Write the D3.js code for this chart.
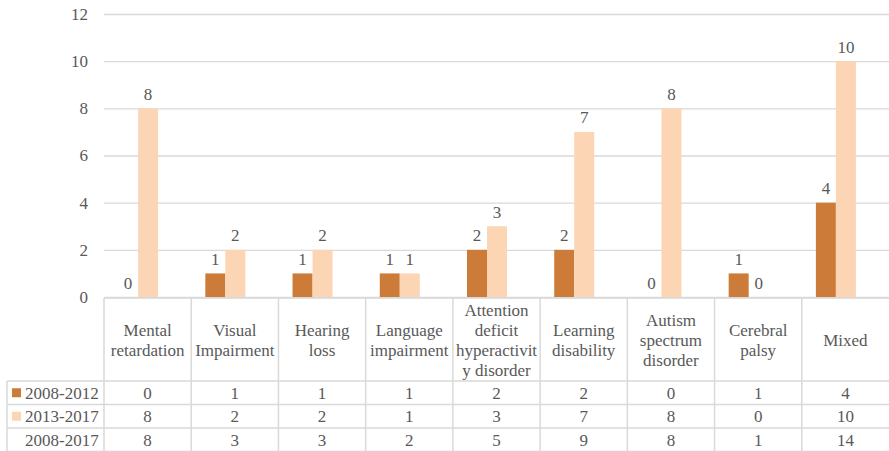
<!DOCTYPE html>
<html>
<head>
<meta charset="utf-8">
<script src="https://cdn.jsdelivr.net/npm/d3@7"></script>
<style>
  body { margin: 0; background: #fff; }
  svg { display: block; }
</style>
</head>
<body>
<div id="chart-container"></div>
<script>
// chart data
var categories = ["Mental\nretardation", "Visual\nImpairment", "Hearing\nloss", "Language\nimpairment",
    "Attention\ndeficit\nhyperactivit\ny disorder", "Learning\ndisability", "Autism\nspectrum\ndisorder",
    "Cerebral\npalsy", "Mixed"];
var seriesNames = ["2008-2012", "2013-2017"];
var values2008_2012 = [0, 1, 1, 1, 2, 2, 0, 1, 4];
var values2013_2017 = [8, 2, 2, 1, 3, 7, 8, 0, 10];
var totalName = "2008-2017";
var values2008_2017 = [8, 3, 3, 2, 5, 9, 8, 1, 14];
var yTicks = [0, 2, 4, 6, 8, 10, 12];

var width = 889, height = 451;
var plotLeft = 104, plotRight = 889, plotTop = 14, plotBottom = 297;
var colors = ["#cc7b39", "#fcd5b5"];
var gridColor = "#d9d9d9";
var fontFam = "'Liberation Serif', 'Times New Roman', Times, serif";

var svg = d3.select("#chart-container")
    .append("svg")
    .attr("width", width)
    .attr("height", height)
    .style("font-family", fontFam);

var x = d3.scaleBand()
    .domain(categories)
    .range([plotLeft, plotRight]);

var xs = d3.scaleBand()
    .domain(seriesNames)
    .range([0, 40]);

var y = d3.scaleLinear()
    .domain([0, 12])
    .range([plotBottom, plotTop]);

// gridlines + y labels
var yAxis = d3.axisLeft(y)
    .tickValues(yTicks)
    .tickSize(-(plotRight - plotLeft))
    .tickPadding(16);

var gy = svg.append("g")
    .attr("class", "y-axis")
    .attr("transform", "translate(" + plotLeft + ",0)")
    .call(yAxis);
gy.attr("font-family", null).attr("font-size", null);
gy.select(".domain").remove();
gy.selectAll("line").attr("stroke", gridColor).attr("stroke-width", 1.3);
gy.selectAll("text")
    .style("font-family", fontFam)
    .style("font-size", "17px")
    .attr("fill", "#595959");

// bars (shifted a bit left of the table columns like the original)
var rows = categories.map(function (c, i) {
    return { cat: c, vals: [values2008_2012[i], values2013_2017[i]] };
});
var groupOffset = (x.bandwidth() - 40) / 2 - 9.5;

var groups = svg.selectAll("g.grp")
    .data(rows)
    .enter().append("g")
    .attr("class", "grp")
    .attr("transform", function (d) {
        return "translate(" + (x(d.cat) + groupOffset) + ",0)";
    });

groups.selectAll("rect")
    .data(function (d) {
        return d.vals.map(function (v, j) { return { s: seriesNames[j], v: v, j: j }; });
    })
    .enter().append("rect")
    .attr("x", function (d) { return xs(d.s); })
    .attr("width", xs.bandwidth())
    .attr("y", function (d) { return y(d.v); })
    .attr("height", function (d) { return plotBottom - y(d.v); })
    .style("fill", function (d) { return colors[d.j]; });

groups.selectAll("text.val")
    .data(function (d) {
        return d.vals.map(function (v, j) { return { s: seriesNames[j], v: v }; });
    })
    .enter().append("text")
    .attr("class", "val")
    .attr("x", function (d) { return xs(d.s) + xs.bandwidth() / 2; })
    .attr("y", function (d) { return y(d.v) - 8.5; })
    .attr("text-anchor", "middle")
    .attr("fill", "#595959")
    .style("font-family", fontFam)
    .style("font-size", "17px")
    .text(function (d) { return d.v; });

// data table
var tableTop = 298, headBottom = 381, rowH = 23.5, tableLeft = 7;
var tableRows = [
    { name: seriesNames[0], vals: values2008_2012, color: colors[0] },
    { name: seriesNames[1], vals: values2013_2017, color: colors[1] },
    { name: totalName, vals: values2008_2017, color: null }
];
var tbl = svg.append("g").attr("class", "table");

// horizontal lines
tbl.append("line")
    .attr("x1", plotLeft).attr("x2", plotRight)
    .attr("y1", tableTop).attr("y2", tableTop);
[0, 1, 2, 3].forEach(function (i) {
    tbl.append("line")
        .attr("x1", tableLeft).attr("x2", plotRight)
        .attr("y1", headBottom + i * rowH).attr("y2", headBottom + i * rowH);
});
// vertical lines
tbl.append("line")
    .attr("x1", tableLeft).attr("x2", tableLeft)
    .attr("y1", headBottom).attr("y2", height);
categories.forEach(function (c) {
    tbl.append("line")
        .attr("x1", x(c)).attr("x2", x(c))
        .attr("y1", tableTop).attr("y2", height);
});
tbl.selectAll("line").attr("stroke", gridColor).attr("stroke-width", 1.5);

// header text
categories.forEach(function (c) {
    var lines = c.split("\n");
    var cy = (tableTop + headBottom) / 2 + 0.5;
    var t = tbl.append("text")
        .attr("text-anchor", "middle")
        .attr("fill", "#595959")
        .style("font-family", fontFam)
        .style("font-size", "17px");
    lines.forEach(function (ln, k) {
        t.append("tspan")
            .attr("x", x(c) + x.bandwidth() / 2)
            .attr("y", cy + (k - (lines.length - 1) / 2) * 20 + 6)
            .text(ln);
    });
});

// row cells
tableRows.forEach(function (r, i) {
    var cy = headBottom + i * rowH + rowH / 2;
    if (r.color) {
        tbl.append("rect")
            .attr("x", 12).attr("y", cy - 4.5)
            .attr("width", 9).attr("height", 9)
            .style("fill", r.color);
    }
    tbl.append("text")
        .attr("x", 25).attr("y", cy + 6)
        .attr("fill", "#595959")
        .style("font-family", fontFam)
        .style("font-size", "17px")
        .text(r.name);
    r.vals.forEach(function (v, j) {
        tbl.append("text")
            .attr("x", x(categories[j]) + x.bandwidth() / 2)
            .attr("y", cy + 6)
            .attr("text-anchor", "middle")
            .attr("fill", "#595959")
            .style("font-family", fontFam)
            .style("font-size", "17px")
            .text(v);
    });
});
</script>
</body>
</html>
